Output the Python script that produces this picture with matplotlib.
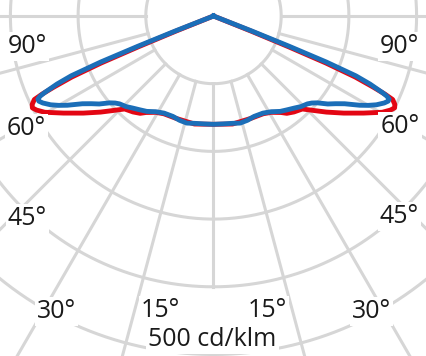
import numpy as np
import matplotlib.pyplot as plt

# half profiles (gamma angle in deg, cd/klm), mirrored for the other half
blue_ang = [0, 5, 10, 14, 18, 22, 27, 31, 35, 38, 41.3, 44, 46.9, 48.5, 50.1,
            52.4, 54.3, 56.2, 58.6, 60, 61.4, 63, 64, 64.7, 65.2, 65.6, 66.5,
            67.2, 67.8, 68.2, 68.6, 69, 90, 180]
blue_cd = [160, 160, 161, 163, 162, 160, 161, 165, 172, 176, 181, 186, 190, 194, 200,
           213, 222, 233, 253, 264, 274, 283, 287, 287, 282, 274, 252,
           228, 180, 120, 60, 0, 0, 0]

red_ang = [0, 10, 20, 27, 31, 35, 37, 40, 43.7, 46.8, 49.6, 53.3, 57.1, 60.3, 62,
           63.1, 64, 65, 65.5, 66, 66.7, 67.3, 67.7, 68.1, 68.5, 90, 180]
red_cd = [160, 162, 161, 162, 166, 174, 180, 185, 190, 204, 219, 240, 264, 287, 296,
          300, 298, 292, 278, 258, 228, 180, 120, 60, 0, 0, 0]

rings = [100, 200, 300, 400, 500]
spokes = list(range(0, 360, 15))

# label text and pixel position (x centre, baseline y)
labels = ['90°', '90°', '60°', '60°', '45°', '45°', '30°', '30°', '15°', '15°', '500 cd/klm']
lab_x = [27.5, 399.5, 26.5, 400, 27.5, 399.5, 56.5, 371.5, 160.5, 267.5, 212.5]
lab_y = [53, 53, 135, 133, 225, 223, 318, 318, 317, 317, 346]

W, H = 427, 356
cx, cy = 213.5, 16
scale = 0.677  # px per cd/klm
rmax = 620
R = rmax * scale

fig = plt.figure(figsize=(W / 100, H / 100), dpi=100)
ax = fig.add_axes([(cx - R) / W, (H - cy - R) / H, 2 * R / W, 2 * R / H], projection='polar')
ax.set_theta_zero_location('S')
ax.set_ylim(0, rmax)
ax.axis('off')

grid_c = '#d6d6d6'
th = np.linspace(0, 2 * np.pi, 721)
for r in rings:
    ax.plot(th, np.full_like(th, r), color=grid_c, lw=2.2, zorder=1)
for a in spokes:
    r_end = 400 if a == 0 else rmax
    ax.plot([np.radians(a)] * 2, [100, r_end], color=grid_c, lw=2.2, zorder=1)


def full(ang, cd):
    ang = np.array(ang)
    cd = np.array(cd)
    t = np.concatenate([-ang[::-1], ang[1:]])
    v = np.concatenate([cd[::-1], cd[1:]])
    return np.radians(t), v


t, v = full(red_ang, red_cd)
ax.plot(t, v, color='#e30613', lw=3.5, zorder=3, solid_joinstyle='round')
t, v = full(blue_ang, blue_cd)
ax.plot(t, v, color='#1b6eb8', lw=3.5, zorder=4, solid_joinstyle='round')

for s, x, y in zip(labels, lab_x, lab_y):
    fig.text(x / W, 1 - y / H, s, ha='center', va='baseline', fontsize=18,
             family='Open Sans', color='#1a1a1a', zorder=5,
             bbox=dict(fc='white', ec='none', pad=1.5))

fig.savefig('out.png', dpi=100)
